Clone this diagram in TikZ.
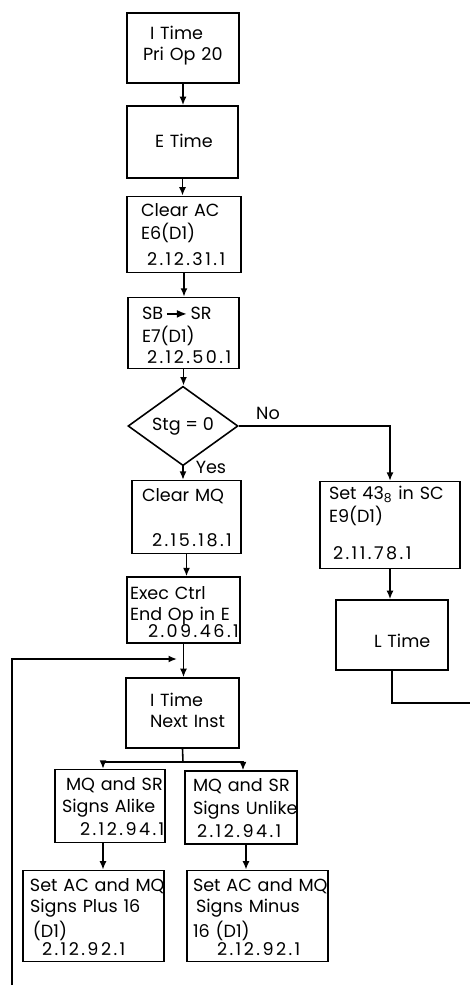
\documentclass[tikz,border=0pt]{standalone}
\usepackage{fontspec}
\setmainfont{Poppins}
\newfontfamily\numfont[LetterSpace=14]{Poppins}
\usepackage{tikz}
\usetikzlibrary{calc, shapes.geometric, positioning, arrows.meta}

\newcommand{\boxfont}{\fontsize{10}{12}\selectfont}
% các dòng chữ trong hộp, đối số tùy chọn hạ chữ xuống
\newcommand{\lns}[2][0pt]{\raisebox{-#1}[\height][\depth]{\begin{tabular}{@{}l@{}}#2\end{tabular}}}
\newcommand{\nr}[1]{{\numfont #1}}

\begin{document}
\begin{tikzpicture}[>={Latex[length=1.7mm, width=1.4mm]}, x=0.2mm, y=-0.2mm,
    box/.style 2 args={draw, rectangle, line width=0.9pt, inner xsep=0pt, inner ysep=0.6mm,
        align=left, font=\boxfont, minimum width=#1, text width=#1, minimum height=#2},
    dec/.style={draw, diamond, line width=0.9pt, inner sep=0pt, font=\boxfont,
        minimum width=22mm, minimum height=13.6mm},
    flow/.style={->, line width=0.9pt}]
    \useasboundingbox (0,0) rectangle (470,986);

    % 1. Cột chính: I Time -> E Time -> Clear AC -> SB->SR
    \node[box={22.4mm}{14mm}] (itime) at (183,48)
        {\lns[-1.5pt]{\hspace*{4.6mm}I Time\\\hspace*{3.2mm}Pri Op 20}};
    \node[box={22.2mm}{14.4mm}] (etime) at (182.5,142)
        {\lns[1pt]{\hspace*{5.6mm}E Time}};
    \node[box={22.8mm}{14.2mm}] (clrac) at (184,234.5)
        {\lns[1.5pt]{\hspace*{2.8mm}Clear AC\\\hspace*{2.8mm}E6(D1)\\[3pt]\hspace*{4mm}\nr{2.12.31.1}}};
    \node[box={22.2mm}{14mm}] (sbsr) at (183.5,333)
        {\lns[2.5pt]{\hspace*{2.8mm}SB\,\tikz[baseline=-0.6ex]\draw[-{Latex[length=2mm, width=1.6mm]}, line width=0.9pt] (0,0) -- (4mm,0);\,SR\\
         \hspace*{2.8mm}E7(D1)\\\hspace*{3.8mm}\nr{2.12.50.1}}};

    % 2. Khối quyết định Stg = 0
    \node[dec] (stg) at (183,426) {Stg = 0};
    \node[font=\boxfont] (nolbl) at (268,413) {No};
    \node[font=\boxfont] (yeslbl) at (211,467) {Yes};

    % 3. Nhánh Yes
    \node[box={21.8mm}{14mm}] (clrmq) at (186.5,517)
        {\lns[1.5pt]{\hspace*{2mm}Clear MQ\\[14pt]\hspace*{4mm}\nr{2.15.18.1}}};
    \node[box={22.6mm}{12.4mm}] (exec) at (183.5,610)
        {\lns[2.5pt]{\hspace*{0.6mm}Exec Ctrl\\\hspace*{0.6mm}End Op in E\\[-2pt]\hspace*{4.2mm}\nr{2.09.46.1}}};
    \node[box={22.6mm}{14mm}] (next) at (182.5,713)
        {\lns{\hspace*{4.8mm}I Time\\\hspace*{4.8mm}Next Inst}};

    % 4. Hai nhánh dấu
    \node[box={22mm}{13.6mm}] (alike) at (110,806)
        {\lns[1.5pt]{\hspace*{2.2mm}MQ and SR\\[1pt]\hspace*{1.4mm}Signs Alike\\[1pt]\hspace*{5mm}\nr{2.12.94.1}}};
    \node[box={22.4mm}{13.8mm}] (unlike) at (241,807.5)
        {\lns[1.5pt]{\hspace*{1.6mm}MQ and SR\\[1pt]\hspace*{1.6mm}Signs Unlike\\[1pt]\hspace*{2.4mm}\nr{2.12.94.1}}};
    \node[box={28.2mm}{17.2mm}] (plus) at (93.5,916)
        {\lns[1.7pt]{\hspace*{1.4mm}Set AC and MQ\\\hspace*{1.4mm}Signs Plus 16\\[1.5pt]\hspace*{2mm}(D1)\\[-2pt]\hspace*{3.8mm}\nr{2.12.92.1}}};
    \node[box={28.2mm}{17.2mm}] (minus) at (257.5,916)
        {\lns[1.7pt]{\hspace*{1.2mm}Set AC and MQ\\\hspace*{1.8mm}Signs Minus\\[1.5pt]\hspace*{1.2mm}16 (D1)\\[-2pt]\hspace*{6mm}\nr{2.12.92.1}}};

    % 5. Nhánh No
    \node[box={28mm}{16.8mm}] (set43) at (390,525)
        {\lns{\hspace*{1.8mm}Set 43\textsubscript{8} in SC\\\hspace*{1.8mm}E9(D1)\\[9pt]\hspace*{2.6mm}\nr{2.11.78.1}}};
    \node[box={22.4mm}{14mm}] (ltime) at (392,635)
        {\lns[4.5pt]{\hspace*{7.6mm}L Time}};

    % Các điểm phụ
    \coordinate (merge) at (183,659);
    \coordinate (split) at (183,762);
    \coordinate (loopin) at (12,985);
    \coordinate (lout) at (470,703);

    % 6. Các mũi tên
    \draw[flow] (itime.south) -- (itime.south |- etime.north);
    \draw[flow] (etime.south) -- (etime.south |- clrac.north);
    \draw[flow] (clrac.south) -- (clrac.south |- sbsr.north);
    \draw[flow] (sbsr.south) -- (sbsr.south |- stg.north);
    \draw[flow] (stg.south) -- (stg.south |- clrmq.north);
    \draw[flow] (clrmq.south) -- (clrmq.south |- exec.north);
    \draw[flow] (exec.south) -- (exec.south |- next.north);
    \draw[flow] (stg.east) -| (set43.north);
    \draw[flow] (set43.south) -- (set43.south |- ltime.north);
    \draw[line width=0.9pt] (ltime.south) |- (lout);
    \draw[flow] (loopin) |- ([xshift=-1.2mm]merge);

    % Rẽ nhánh sau I Time Next Inst
    \draw[line width=0.9pt] (next.south) -- (split);
    \draw[flow] (split) -| ([xshift=-1.4mm]alike.north);
    \draw[flow] (split) -| ([xshift=0.4mm]unlike.north);
    \coordinate (a1) at ([xshift=-1.4mm]alike.south);
    \coordinate (u1) at ([xshift=1mm]unlike.south);
    \draw[flow] (a1) -- (a1 |- plus.north);
    \draw[flow] (u1) -- (u1 |- minus.north);

\end{tikzpicture}
\end{document}
